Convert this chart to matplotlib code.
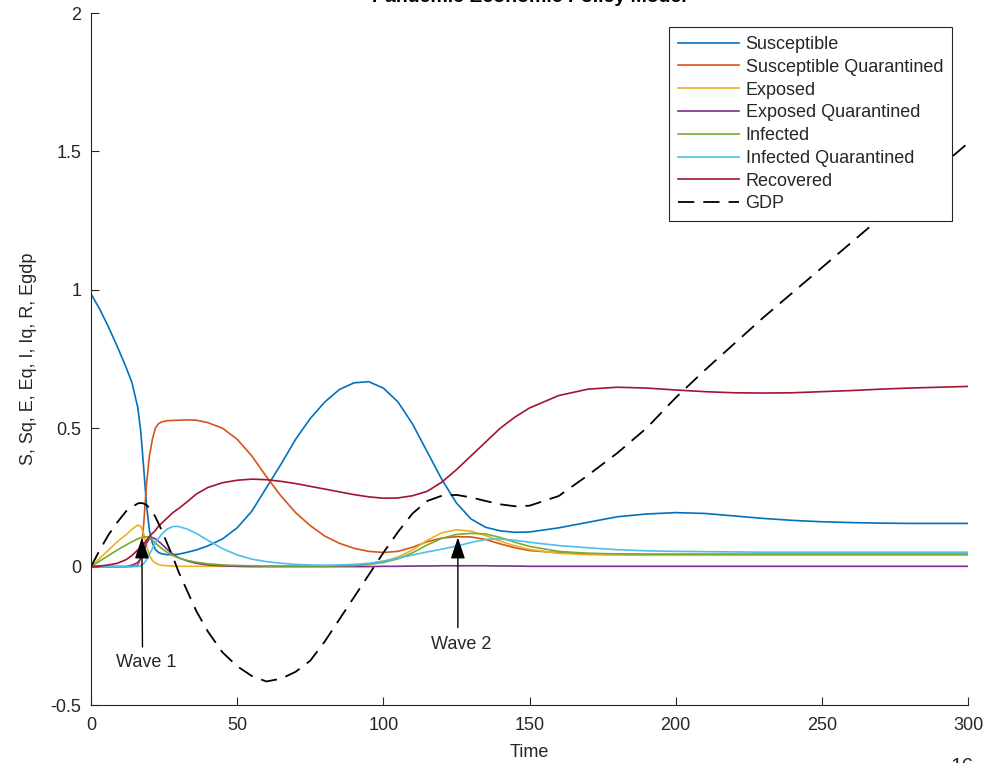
import numpy as np
import matplotlib
matplotlib.use("Agg")
import matplotlib.pyplot as plt

plt.rcParams['font.family'] = ['Liberation Sans', 'DejaVu Sans']

# time samples
t = [0, 3, 6, 9, 12, 14, 16, 17, 18, 19,
     20, 21, 22, 23, 24, 26, 28, 30, 33, 36,
     40, 45, 50, 55, 60, 65, 70, 75, 80, 85,
     90, 95, 100, 105, 110, 115, 120, 125, 130, 135,
     140, 145, 150, 160, 170, 180, 190, 200, 210, 220,
     230, 240, 250, 260, 270, 280, 290, 300]

susceptible = [0.985, 0.93, 0.865, 0.795, 0.72, 0.665, 0.575, 0.49, 0.36, 0.22,
               0.13, 0.085, 0.062, 0.052, 0.047, 0.043, 0.043, 0.045, 0.052, 0.060,
               0.075, 0.10, 0.14, 0.20, 0.285, 0.37, 0.46, 0.535, 0.595, 0.64,
               0.664, 0.668, 0.645, 0.595, 0.515, 0.415, 0.315, 0.23, 0.172, 0.142,
               0.129, 0.124, 0.125, 0.14, 0.16, 0.18, 0.19, 0.195, 0.192, 0.183,
               0.174, 0.167, 0.162, 0.159, 0.157, 0.156, 0.156, 0.156]

susc_quar = [0, 0, 0, 0, 0, 0, 0.005, 0.03, 0.15, 0.30,
             0.40, 0.46, 0.50, 0.515, 0.522, 0.527, 0.528, 0.529, 0.530, 0.529,
             0.52, 0.50, 0.46, 0.40, 0.325, 0.255, 0.195, 0.148, 0.11, 0.084,
             0.066, 0.055, 0.051, 0.055, 0.07, 0.09, 0.103, 0.108, 0.107, 0.098,
             0.082, 0.068, 0.058, 0.05, 0.047, 0.045, 0.044, 0.044, 0.044, 0.044,
             0.044, 0.044, 0.044, 0.044, 0.044, 0.044, 0.044, 0.044]

exposed = [0, 0.03, 0.06, 0.09, 0.115, 0.135, 0.15, 0.145, 0.12, 0.075,
           0.04, 0.022, 0.013, 0.008, 0.005, 0.003, 0.002, 0.001, 0.001, 0.001,
           0.001, 0.001, 0.001, 0.001, 0.001, 0.001, 0.001, 0.001, 0.001, 0.002,
           0.003, 0.008, 0.018, 0.035, 0.06, 0.095, 0.122, 0.133, 0.128, 0.112,
           0.092, 0.075, 0.062, 0.048, 0.043, 0.042, 0.041, 0.041, 0.041, 0.041,
           0.041, 0.041, 0.041, 0.041, 0.041, 0.041, 0.041, 0.041]

exp_quar = [0, 0, 0, 0, 0, 0.005, 0.015, 0.03, 0.055, 0.085,
            0.10, 0.105, 0.10, 0.092, 0.083, 0.063, 0.045, 0.032, 0.02, 0.012,
            0.006, 0.003, 0.001, 0, 0, 0, 0, 0, 0, 0,
            0, 0, 0.001, 0.001, 0.002, 0.002, 0.003, 0.003, 0.003, 0.003,
            0.002, 0.002, 0.001, 0.001, 0.001, 0.001, 0.001, 0.001, 0.001, 0.001,
            0.001, 0.001, 0.001, 0.001, 0.001, 0.001, 0.001, 0.001]

infected = [0, 0.02, 0.04, 0.06, 0.078, 0.09, 0.10, 0.104, 0.107, 0.108,
            0.104, 0.096, 0.086, 0.076, 0.067, 0.052, 0.04, 0.031, 0.022, 0.016,
            0.01, 0.006, 0.004, 0.003, 0.002, 0.002, 0.002, 0.002, 0.002, 0.003,
            0.004, 0.008, 0.015, 0.028, 0.05, 0.078, 0.102, 0.116, 0.12, 0.118,
            0.105, 0.088, 0.073, 0.055, 0.048, 0.046, 0.045, 0.045, 0.045, 0.045,
            0.045, 0.045, 0.045, 0.045, 0.045, 0.045, 0.045, 0.045]

inf_quar = [0, 0, 0, 0, 0, 0, 0, 0.003, 0.01, 0.025,
            0.045, 0.065, 0.085, 0.10, 0.115, 0.135, 0.145, 0.145, 0.135, 0.12,
            0.095, 0.065, 0.042, 0.027, 0.018, 0.012, 0.008, 0.006, 0.005, 0.006,
            0.008, 0.012, 0.02, 0.03, 0.042, 0.053, 0.063, 0.074, 0.087, 0.098,
            0.10, 0.095, 0.088, 0.076, 0.068, 0.061, 0.057, 0.055, 0.054, 0.053,
            0.052, 0.052, 0.052, 0.052, 0.052, 0.052, 0.052, 0.052]

recovered = [0, 0.002, 0.006, 0.012, 0.025, 0.04, 0.06, 0.07, 0.08, 0.095,
             0.11, 0.12, 0.13, 0.145, 0.155, 0.175, 0.195, 0.21, 0.235, 0.262,
             0.286, 0.303, 0.312, 0.316, 0.314, 0.308, 0.30, 0.29, 0.28, 0.27,
             0.26, 0.252, 0.247, 0.248, 0.256, 0.272, 0.305, 0.35, 0.40, 0.45,
             0.50, 0.54, 0.573, 0.618, 0.641, 0.648, 0.645, 0.638, 0.632, 0.628,
             0.627, 0.628, 0.632, 0.636, 0.641, 0.645, 0.648, 0.651]

gdp = [0, 0.06, 0.115, 0.16, 0.20, 0.215, 0.228, 0.23, 0.228, 0.222,
       0.212, 0.198, 0.18, 0.158, 0.135, 0.085, 0.035, -0.02, -0.09, -0.16,
       -0.235, -0.31, -0.36, -0.395, -0.415, -0.405, -0.38, -0.34, -0.27, -0.19,
       -0.11, -0.03, 0.05, 0.125, 0.192, 0.237, 0.256, 0.259, 0.25, 0.237,
       0.225, 0.218, 0.22, 0.255, 0.33, 0.41, 0.50, 0.61, 0.71, 0.805,
       0.90, 0.99, 1.08, 1.17, 1.26, 1.35, 1.44, 1.53]

labels = ['Susceptible', 'Susceptible Quarantined', 'Exposed', 'Exposed Quarantined',
          'Infected', 'Infected Quarantined', 'Recovered', 'GDP']
colors = ['#0072BD', '#D95319', '#EDB120', '#7E2F8E', '#77AC30', '#4DBEEE', '#A2142F']

# annotation arrows: (tip, tail, text position)
wave1 = ((17.4, 0.105), (17.6, -0.29), (18.8, -0.345))
wave2 = ((125.5, 0.105), (125.5, -0.22), (126.7, -0.283))

axis_col = '#262626'

fig = plt.figure(figsize=(9.92, 7.63), dpi=100)
ax = fig.add_axes([91 / 992, 58 / 763, 877 / 992, 692 / 763])

series = [susceptible, susc_quar, exposed, exp_quar, infected, inf_quar, recovered]
for ys, c, lab in zip(series, colors, labels[:7]):
    ax.plot(t, ys, color=c, lw=1.2, label=lab)
ax.plot(t, gdp, color='k', lw=1.3, linestyle=(0, (9, 5)), label=labels[7])

ax.set_xlim(0, 300)
ax.set_ylim(-0.5, 2)
ax.set_xticks([0, 50, 100, 150, 200, 250, 300])
ax.set_yticks([-0.5, 0, 0.5, 1, 1.5, 2])
ax.set_yticklabels(['-0.5', '0', '0.5', '1', '1.5', '2'])
ax.spines['top'].set_visible(False)
ax.spines['right'].set_visible(False)
for s in ['left', 'bottom']:
    ax.spines[s].set_color(axis_col)
    ax.spines[s].set_linewidth(0.8)
ax.tick_params(direction='in', length=6, width=0.8, colors=axis_col, labelsize=13)
ax.tick_params(axis='x', pad=9)
ax.tick_params(axis='y', pad=7)

ax.set_xlabel('Time', fontsize=13, color=axis_col, labelpad=7)
ax.set_ylabel('S, Sq, E, Eq, I, Iq, R, Egdp', fontsize=13, color=axis_col, labelpad=10)

leg = ax.legend(loc='upper right', bbox_to_anchor=(0.9818, 0.9798), borderaxespad=0,
                fontsize=13, frameon=True, fancybox=False, framealpha=1,
                borderpad=0.5, handlelength=3.4, handletextpad=0.35, labelspacing=0.32)
leg.get_frame().set_edgecolor(axis_col)
leg.get_frame().set_linewidth(0.8)
for txt in leg.get_texts():
    txt.set_color(axis_col)

for tip, tail, pos in [wave1, wave2]:
    ax.annotate('', xy=tip, xytext=tail,
                arrowprops=dict(arrowstyle='-|>,head_length=0.65,head_width=0.22',
                                color='k', lw=1, shrinkA=0, shrinkB=0, mutation_scale=20))
for (tip, tail, pos), name in zip([wave1, wave2], ['Wave 1', 'Wave 2']):
    ax.text(pos[0], pos[1], name, ha='center', va='center', fontsize=13, color=axis_col)

fig.text(0.534, 0.998, 'Pandemic Economic Policy Model', ha='center', va='baseline',
         fontsize=14, fontweight='bold', color='k')
fig.text(962 / 992, -0.012, '16', ha='center', va='baseline', fontsize=15, color=axis_col)

fig.savefig('out.png', dpi=100)
